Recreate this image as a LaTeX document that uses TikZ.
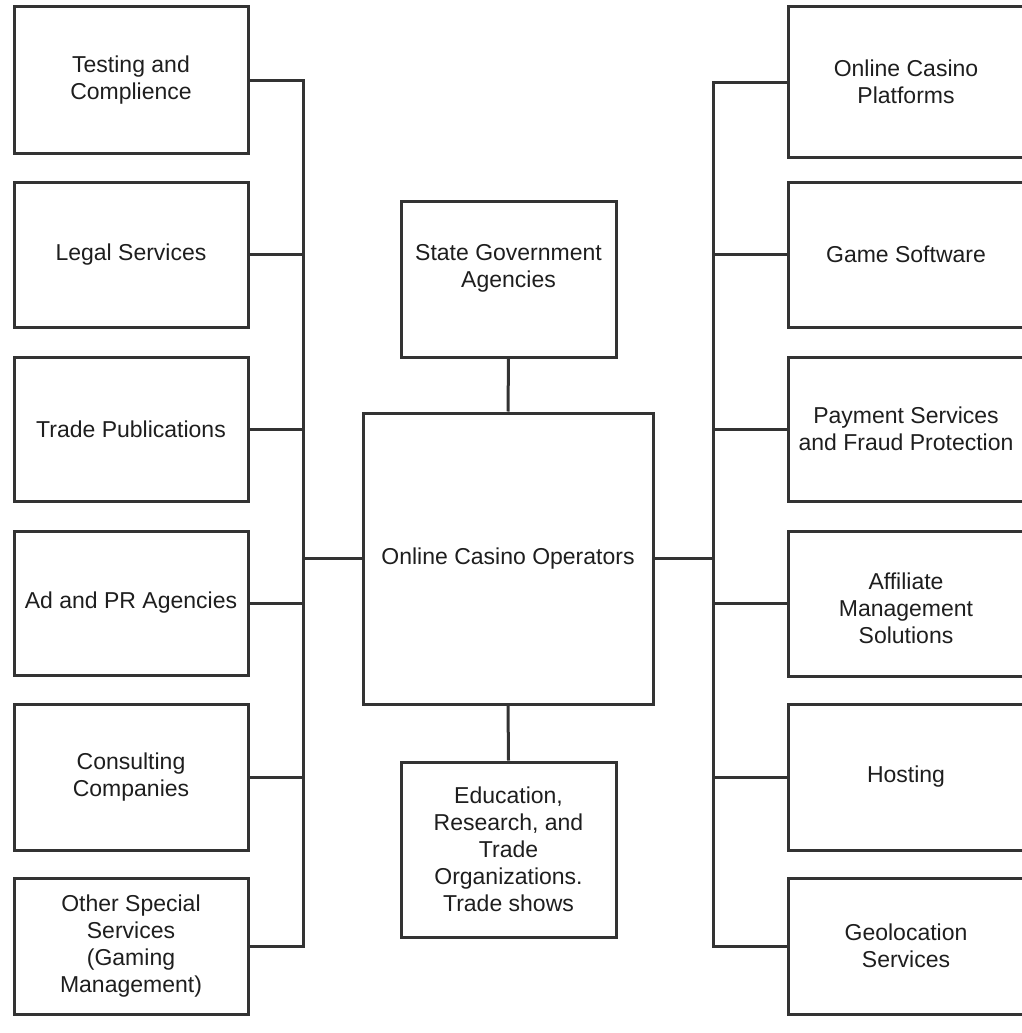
\documentclass[tikz,border=0pt]{standalone}
\usepackage{fontspec}
\setmainfont{Liberation Sans}
\definecolor{linegray}{HTML}{333333}
\definecolor{textgray}{HTML}{1E1E1E}
\begin{document}
\begin{tikzpicture}[x=1pt,y=-1pt,
  box/.style={draw=linegray, line width=3pt, rectangle, align=center, inner sep=0pt,
    text=textgray, font=\fontsize{23}{27}\selectfont},
  sidebox/.style={box, minimum width=234pt},
  wire/.style={draw=linegray, line width=3pt, line join=miter}]
\useasboundingbox (0,0) rectangle (1021,1033);

% left column
\node[sidebox, minimum height=146pt] (L1) at (131,80)  {Testing and\\Complience};
\node[sidebox, minimum height=145pt] (L2) at (131,254.5) {Legal Services};
\node[sidebox, minimum height=144pt] (L3) at (131,429) {Trade Publications};
\node[sidebox, minimum height=144pt] (L4) at (131,603) {Ad and PR Agencies};
\node[sidebox, minimum height=146pt] (L5) at (131,777) {Consulting\\Companies};
\node[sidebox, minimum height=136pt] (L6) at (131,946) {Other Special\\Services\\(Gaming\\Management)};

% right column (runs past the page edge)
\node[sidebox, minimum width=236pt, minimum height=150pt] (R1) at (906,82)  {Online Casino\\Platforms};
\node[sidebox, minimum width=236pt, minimum height=145pt] (R2) at (906,254.5) {Game Software};
\node[sidebox, minimum width=236pt, minimum height=144pt] (R3) at (906,429) {Payment Services\\and Fraud Protection};
\node[sidebox, minimum width=236pt, minimum height=145pt] (R4) at (906,603.5) {\mbox{}\\Affiliate\\Management\\Solutions};
\node[sidebox, minimum width=236pt, minimum height=146pt] (R5) at (906,777) {Hosting};
\node[sidebox, minimum width=236pt, minimum height=136pt] (R6) at (906,946) {Geolocation\\Services};

% centre column
\node[box, minimum width=215pt, minimum height=156pt] (state) at (508.5,279) {State Government\\Agencies\\\mbox{}};
\node[box, minimum width=290pt, minimum height=291pt] (main) at (508,558.5) {Online Casino Operators};
\node[box, minimum width=215pt, minimum height=175pt] (edu) at (508.5,849.5) {Education,\\Research, and\\Trade\\Organizations.\\Trade shows};

% buses
\coordinate (lbus) at (303,0);
\coordinate (rbus) at (713,0);

\draw[wire] (L1.east) -- (L1.east -| lbus) -- (L6.east -| lbus) -- (L6.east);
\foreach \n in {L2,L3,L4,L5}
  \draw[wire] (\n.east) -- (\n.east -| lbus);
\draw[wire] (main.west) -- (main.west -| lbus);

\draw[wire] (R1.west) -- (R1.west -| rbus) -- (R6.west -| rbus) -- (R6.west);
\foreach \n in {R2,R3,R4,R5}
  \draw[wire] (\n.west) -- (\n.west -| rbus);
\draw[wire] (main.east) -- (main.east -| rbus);

\draw[wire] (state.south) -- (main.north);
\draw[wire] (main.south) -- (edu.north);
\end{tikzpicture}
\end{document}
